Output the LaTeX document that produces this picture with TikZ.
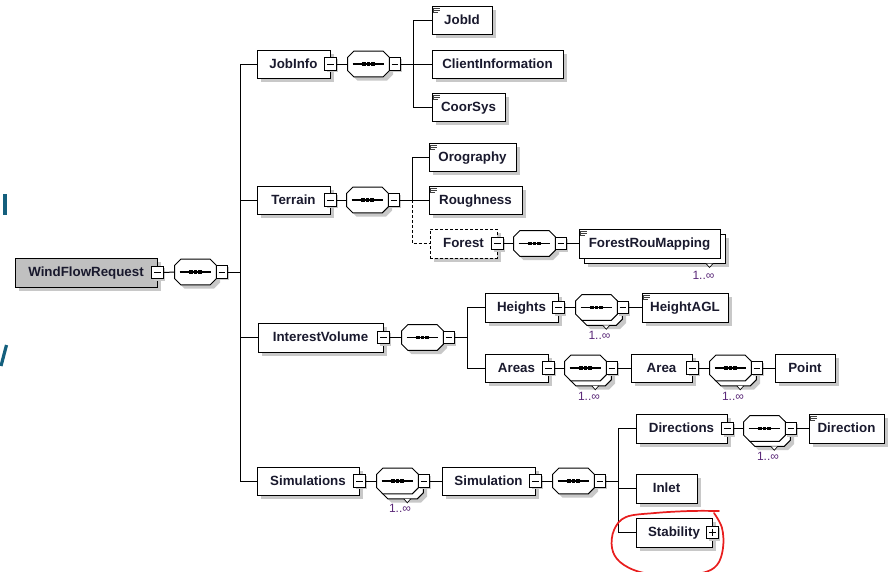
\documentclass[tikz,border=0pt]{standalone}
\usepackage{fontspec}
\setmainfont{Liberation Sans}
\usetikzlibrary{calc,shadows}
\definecolor{shadowc}{RGB}{200,200,200}
\definecolor{rootfill}{RGB}{192,192,192}
\definecolor{txt}{RGB}{25,25,45}
\definecolor{multic}{RGB}{90,40,120}
\definecolor{tealfrag}{RGB}{20,95,125}
\definecolor{redmark}{RGB}{232,30,30}
\tikzset{
  elbox/.style={draw, fill=white, line width=0.75pt, text=txt,
    drop shadow={shadow xshift=2.8pt, shadow yshift=-2.8pt, fill=shadowc, opacity=1},
    font=\bfseries\fontsize{10}{12}\selectfont, inner sep=0pt,
    text height=7.7pt, text depth=1.5pt},
  elboxns/.style={draw, fill=white, line width=0.75pt, text=txt,
    font=\bfseries\fontsize{10}{12}\selectfont, inner sep=0pt,
    text height=7.7pt, text depth=1.5pt},
  rootbox/.style={fill=rootfill},
  dashedbox/.style={dash pattern=on 2.25pt off 1.5pt},
  expander/.style={draw, fill=white, line width=0.6pt, inner sep=0pt,
    minimum width=8.6pt, minimum height=9.4pt,
    drop shadow={shadow xshift=1.3pt, shadow yshift=-1.3pt, fill=shadowc, opacity=1},
    path picture={\draw[line width=0.5pt] ($(path picture bounding box.west)+(2.5,0)$) -- ($(path picture bounding box.east)+(-2.5,0)$);}},
  expanderplus/.style={draw, fill=white, line width=0.6pt, inner sep=0pt,
    minimum width=8.6pt, minimum height=9.4pt,
    drop shadow={shadow xshift=1.3pt, shadow yshift=-1.3pt, fill=shadowc, opacity=1},
    path picture={\draw[line width=0.5pt] ($(path picture bounding box.west)+(2.5,0)$) -- ($(path picture bounding box.east)+(-2.5,0)$)
       ($(path picture bounding box.north)+(0,2.5)$) -- ($(path picture bounding box.south)+(0,-2.5)$);}},
  seqnode/.style={draw=none, inner sep=0pt, minimum width=30.75pt, minimum height=18.75pt},
  seqshape/.style={draw, fill=white, line width=0.75pt,
    drop shadow={shadow xshift=2.8pt, shadow yshift=-2.8pt, fill=shadowc, opacity=1}},
  seqshapens/.style={draw, fill=white, line width=0.75pt},
  conn/.style={line width=0.75pt},
  multilab/.style={inner sep=0pt, text=multic, font=\fontsize{9}{10}\selectfont},
  iconline/.style={line width=0.5pt, black!75}
}
\newcommand\el[7][]{\node[elbox,#1,minimum width={(#5-#3)*0.75pt},minimum height={(#6-#4)*0.75pt}] (#2) at ({(#3+#5)/2},{(#4+#6)/2}) {#7};}
\newcommand\octo[2]{\draw[#2] ($(#1.north west)+(6,0)$) -- ($(#1.north east)+(-6,0)$) -- ($(#1.north east)+(0,6)$) -- ($(#1.south east)+(0,-6)$) -- ($(#1.south east)+(-6,0)$) -- ($(#1.south west)+(6,0)$) -- ($(#1.south west)+(0,-6)$) -- ($(#1.north west)+(0,6)$) -- cycle;}
\newcommand\seqsym[1]{%
  \draw[line width=0.9pt] ($(#1.west)+(5,0)$) -- ($(#1.east)+(-5,0)$);
  \foreach \dd in {-4.8,0,4.8} {\fill ($(#1.center)+(\dd,0)$) ++(-1.9,-1.9) rectangle ++(3.8,3.8);}}
\newcommand\seqc[4][seqshape]{%
  \node[seqnode] (#2) at ({#3+20.5},#4) {};
  \octo{#2}{#1}
  \seqsym{#2}
  \node[expander] (#2x) at ($(#2.east)+(5.5,0)$) {};}
\newcommand\notch[1]{\draw[fill=white, line width=0.5pt] ($(#1.south east)+(-19.5,0)$) -- ++(3.5,4) -- ++(3.5,-4);}
\newcommand\seqm[3]{%
  \node[seqnode] (#1b) at ({#2+25.5},{#3+5}) {};
  \octo{#1b}{seqshape}
  \notch{#1b}
  \seqc[seqshapens]{#1}{#2}{#3}}
\newcommand\icon[1]{\draw[iconline] ($(#1.north west)+(2,2.5)$) -- ++(6,0) ($(#1.north west)+(2,4.5)$) -- ++(6,0) ($(#1.north west)+(2,6.5)$) -- ++(4,0) ($(#1.north west)+(2,2)$) -- ++(0,5);}
\begin{document}
\begin{tikzpicture}[x=0.75pt,y=-0.75pt]
\useasboundingbox (0,0) rectangle (891,571);

% cut-off fragments at the left edge
\draw[tealfrag, line width=2.4pt] (5,194) -- (5,215);
\draw[tealfrag, line width=2.4pt] (6.5,345) -- (1,366);

% root
\el[rootbox]{root}{15}{258}{157}{287}{WindFlowRequest}
\node[expander] (rootx) at (root.east) {};
\seqc{rs}{175}{272}
\coordinate (trunk) at (240,272);

% JobInfo
\el{jobinfo}{257}{50}{330}{78}{JobInfo}
\node[expander] (jobinfox) at (jobinfo.east) {};
\seqc{jis}{348}{64}
\coordinate (jiv) at (413,64);
\el{jobid}{432}{6}{492}{34}{JobId}\icon{jobid}
\el{clientinfo}{432}{50}{563}{78}{ClientInformation}
\el{coorsys}{432}{93}{505}{121}{CoorSys}\icon{coorsys}

% Terrain
\el{terrain}{257}{186}{330}{214}{Terrain}
\node[expander] (terrainx) at (terrain.east) {};
\seqc{ts}{347}{200}
\coordinate (tv) at (412,200);
\el{orography}{429}{143}{516}{171}{Orography}\icon{orography}
\el{roughness}{429}{186}{522}{214}{Roughness}\icon{roughness}
\el[dashedbox]{forest}{430}{229}{497}{258}{Forest}
\node[expander] (forestx) at (forest.east) {};
\seqc{fs}{514}{243.5}
\node[elbox, minimum width={141*0.75pt}, minimum height={29*0.75pt}] (frmb) at (654.5,248.5) {};
\notch{frmb}
\node[elboxns, minimum width={141*0.75pt}, minimum height={29*0.75pt}] (frm) at (649.5,243.5) {ForestRouMapping};
\icon{frm}
\node[multilab] (frml) at (703.5,275) {1..∞};

% InterestVolume
\el{iv}{258}{323}{383}{352}{InterestVolume}
\node[expander] (ivx) at (iv.east) {};
\seqc{ivs}{402}{337.5}
\coordinate (ivv) at (467,337.5);
\el{heights}{485}{293}{558}{322}{Heights}
\node[expander] (heightsx) at (heights.east) {};
\seqm{hs}{576}{307.5}
\node[multilab] (hsl) at (599.5,335) {1..∞};
\el{heightagl}{642}{293}{728}{322}{HeightAGL}\icon{heightagl}
\el{areas}{485}{354}{548}{382}{Areas}
\node[expander] (areasx) at (areas.east) {};
\seqm{as}{565}{368}
\node[multilab] (asl) at (589,396) {1..∞};
\el{area}{631}{354}{692}{382}{Area}
\node[expander] (areax) at (area.east) {};
\seqm{aas}{710}{368}
\node[multilab] (aasl) at (733,396) {1..∞};
\el{point}{775}{354}{835}{382}{Point}

% Simulations
\el{simulations}{257}{467}{359}{495}{Simulations}
\node[expander] (simulationsx) at (simulations.east) {};
\seqm{ss}{377}{481}
\node[multilab] (ssl) at (400,508) {1..∞};
\el{simulation}{442}{467}{535}{495}{Simulation}
\node[expander] (simulationx) at (simulation.east) {};
\seqc{s2}{553}{481}
\coordinate (simv) at (618,481);
\el{directions}{636}{414}{727}{443}{Directions}
\node[expander] (directionsx) at (directions.east) {};
\seqm{ds}{744}{428.5}
\node[multilab] (dsl) at (768,456) {1..∞};
\el{direction}{809}{414}{884}{443}{Direction}\icon{direction}
\el{inlet}{636}{474}{697}{503}{Inlet}
\el{stability}{636}{518}{712}{547}{Stability}
\node[expanderplus] (stabilityx) at (stability.east) {};

% connectors
\draw[conn] (rootx.east) -- (rs.west);
\draw[conn] (rsx.east) -- (trunk);
\draw[conn] (jobinfo.west) -- (jobinfo.west -| trunk) -- (simulations.west -| trunk) -- (simulations.west);
\draw[conn] (terrain.west -| trunk) -- (terrain.west);
\draw[conn] (iv.west -| trunk) -- (iv.west);

\draw[conn] (jobinfox.east) -- (jis.west);
\draw[conn] (jisx.east) -- (clientinfo.west);
\draw[conn] (jobid.west) -- (jobid.west -| jiv) -- (coorsys.west -| jiv) -- (coorsys.west);

\draw[conn] (terrainx.east) -- (ts.west);
\draw[conn] (tsx.east) -- (roughness.west);
\draw[conn] (orography.west) -- (orography.west -| tv) -- (tv);
\draw[conn, dash pattern=on 2.25pt off 1.5pt] (tv) -- (forest.west -| tv) -- (forest.west);
\draw[conn] (forestx.east) -- (fs.west);
\draw[conn] (fsx.east) -- (frm.west);

\draw[conn] (ivx.east) -- (ivs.west);
\draw[conn] (ivsx.east) -- (ivv);
\draw[conn] (heights.west) -- (heights.west -| ivv) -- (areas.west -| ivv) -- (areas.west);
\draw[conn] (heightsx.east) -- (hs.west);
\draw[conn] (hsx.east) -- (heightagl.west);
\draw[conn] (areasx.east) -- (as.west);
\draw[conn] (asx.east) -- (area.west);
\draw[conn] (areax.east) -- (aas.west);
\draw[conn] (aasx.east) -- (point.west);

\draw[conn] (simulationsx.east) -- (ss.west);
\draw[conn] (ssx.east) -- (simulation.west);
\draw[conn] (simulationx.east) -- (s2.west);
\draw[conn] (s2x.east) -- (simv);
\draw[conn] (directions.west) -- (directions.west -| simv) -- (stability.west -| simv) -- (stability.west);
\draw[conn] (inlet.west -| simv) -- (inlet.west);
\draw[conn] (directionsx.east) -- (ds.west);
\draw[conn] (dsx.east) -- (direction.west);

% red hand-drawn mark
\begin{scope}
\clip (0,0) rectangle (891,571);
\draw[redmark, line width=1.3pt, line cap=round] plot[smooth, tension=0.6] coordinates {(719,511) (690,511) (655,513) (626,517) (614,530) (612,548) (620,562) (640,572) (672,576) (702,573) (717,565) (723,548) (722,528) (714,513)};
\end{scope}
\end{tikzpicture}
\end{document}
